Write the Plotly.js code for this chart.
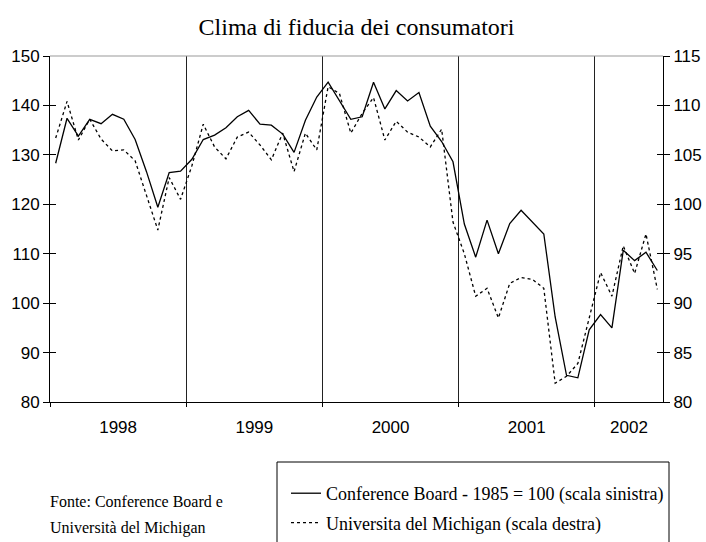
<!DOCTYPE html>
<html>
<head>
<meta charset="utf-8">
<script src="https://cdn.plot.ly/plotly-3.0.1.min.js"></script>
<style>html,body{margin:0;padding:0;background:#fff;}</style>
</head>
<body>
<div id="chart" style="width:706px;height:542px;"></div>
<script>
// Monthly data, Jan 1998 - Jun 2002
const months = [
  "1998-01","1998-02","1998-03","1998-04","1998-05","1998-06","1998-07","1998-08","1998-09","1998-10","1998-11","1998-12",
  "1999-01","1999-02","1999-03","1999-04","1999-05","1999-06","1999-07","1999-08","1999-09","1999-10","1999-11","1999-12",
  "2000-01","2000-02","2000-03","2000-04","2000-05","2000-06","2000-07","2000-08","2000-09","2000-10","2000-11","2000-12",
  "2001-01","2001-02","2001-03","2001-04","2001-05","2001-06","2001-07","2001-08","2001-09","2001-10","2001-11","2001-12",
  "2002-01","2002-02","2002-03","2002-04","2002-05","2002-06"
];
// Conference Board - 1985 = 100 (left scale)
const conferenceBoard = [
  128.3,137.4,133.8,137.2,136.3,138.2,137.2,133.1,126.6,119.4,126.4,126.7,
  129.1,133.1,134.0,135.5,137.7,139.0,136.2,136.0,134.2,130.5,137.0,141.7,
  144.7,140.8,137.2,137.7,144.7,139.3,143.0,140.9,142.6,135.8,132.7,128.6,
  116.0,109.3,116.8,110.0,116.1,118.8,116.3,114.0,97.2,85.4,84.9,94.6,
  97.7,95.0,110.7,108.6,110.3,106.6
];
// Università del Michigan (right scale)
const michigan = [
  106.7,110.4,106.5,108.6,106.6,105.4,105.5,104.4,100.9,97.4,102.7,100.5,
  103.9,108.1,105.8,104.6,106.8,107.3,106.0,104.5,107.2,103.3,107.2,105.5,
  111.9,111.2,107.2,109.2,110.8,106.5,108.4,107.3,106.8,105.8,107.6,98.2,
  95.0,90.7,91.5,88.5,92.0,92.6,92.4,91.5,81.9,82.6,83.9,88.6,
  93.1,90.7,95.8,93.0,97.0,91.4
];
const years = ["1998","1999","2000","2001","2002"];

const idx = months.map((m, i) => i);
const yearCenters = years.map(y => {
  const ii = months.map((m, i) => m.startsWith(y) ? i : null).filter(v => v !== null);
  return (ii[0] + ii[ii.length - 1]) / 2;
});

const sans = "Liberation Sans, Arial, sans-serif";
const serif = "Liberation Serif, Times New Roman, serif";

const traces = [
  {x: idx, y: conferenceBoard, text: months, type: "scatter", mode: "lines",
   name: "Conference Board - 1985 = 100 (scala sinistra)",
   line: {color: "#000", width: 1.3}, legendgroup: "a", yaxis: "y"},
  {x: idx, y: michigan, text: months, type: "scatter", mode: "lines",
   name: "Universita del Michigan (scala destra)",
   line: {color: "#000", width: 1.3, dash: "dot"}, legendgroup: "b", yaxis: "y2"},
  {x: idx, y: conferenceBoard, type: "scatter", mode: "none", showlegend: false, hoverinfo: "skip", yaxis: "y3"},
  {x: idx, y: michigan, type: "scatter", mode: "none", showlegend: false, hoverinfo: "skip", yaxis: "y4"}
];

const layout = {
  width: 706, height: 542,
  margin: {l: 50, r: 43, t: 56, b: 140, pad: 0, autoexpand: false},
  paper_bgcolor: "#fff", plot_bgcolor: "#fff",
  showlegend: true,
  title: {text: "Clima di fiducia dei consumatori", x: 0.5, xref: "paper", xanchor: "center",
          y: 1 - 27/542, yref: "container", yanchor: "middle",
          font: {family: serif, size: 24, color: "#000"}},
  xaxis: {range: [-0.5, months.length - 0.5], tickmode: "array", tickvals: yearCenters, ticktext: years,
          ticks: "", showgrid: false, zeroline: false, showline: true, linecolor: "#000", linewidth: 1,
          tickfont: {family: sans, size: 17, color: "#000"}, ticklabelstandoff: 10,
          minor: {tick0: -0.5, dtick: 12, ticks: "outside", ticklen: 4, tickcolor: "#000", tickwidth: 1,
                  showgrid: true, gridcolor: "#222", gridwidth: 1}},
  yaxis: {range: [80, 150], tick0: 80, dtick: 10, ticks: "outside", ticklen: 6, tickcolor: "#000",
          showline: true, linecolor: "#000", linewidth: 1, showgrid: false, zeroline: false,
          tickfont: {family: sans, size: 17, color: "#000"}},
  yaxis2: {range: [80, 115], tick0: 80, dtick: 5, overlaying: "y", side: "right", ticks: "outside", ticklen: 6,
           tickcolor: "#000", showline: true, linecolor: "#000", linewidth: 1, showgrid: false, zeroline: false,
           tickfont: {family: sans, size: 17, color: "#000"}},
  yaxis3: {range: [80, 150], tick0: 80, dtick: 10, overlaying: "y", side: "left", ticks: "inside", ticklen: 6,
           tickcolor: "#000", showticklabels: false, showline: false, showgrid: false, zeroline: false},
  yaxis4: {range: [80, 115], tick0: 80, dtick: 5, overlaying: "y", side: "right", ticks: "inside", ticklen: 6,
           tickcolor: "#000", showticklabels: false, showline: false, showgrid: false, zeroline: false},
  legend: {x: 0.385, y: -0.211, xanchor: "left", yanchor: "top", orientation: "v",
           font: {family: serif, size: 18, color: "#000"}, bgcolor: "rgba(0,0,0,0)", borderwidth: 0,
           traceorder: "grouped", tracegroupgap: 3, itemwidth: 30},
  shapes: [
    {type: "rect", xref: "paper", yref: "paper", x0: (277-50)/613, x1: (669-50)/613, y0: -0.45, y1: (402-462)/346,
     line: {color: "#000", width: 1}, fillcolor: "rgba(0,0,0,0)"},
    {type: "line", xref: "paper", yref: "paper", x0: 0, x1: 1, y0: 1, y1: 1, line: {color: "#999", width: 1}}
  ],
  annotations: [
    {text: "Fonte: Conference Board e", xref: "paper", yref: "paper", x: -2/613, y: (402-501)/346,
     xanchor: "left", yanchor: "middle", showarrow: false, font: {family: serif, size: 16, color: "#000"}},
    {text: "Università del Michigan", xref: "paper", yref: "paper", x: -2/613, y: (402-528)/346,
     xanchor: "left", yanchor: "middle", showarrow: false, font: {family: serif, size: 16, color: "#000"}}
  ]
};

Plotly.newPlot("chart", traces, layout, {displayModeBar: false, staticPlot: true});
</script>
</body>
</html>
